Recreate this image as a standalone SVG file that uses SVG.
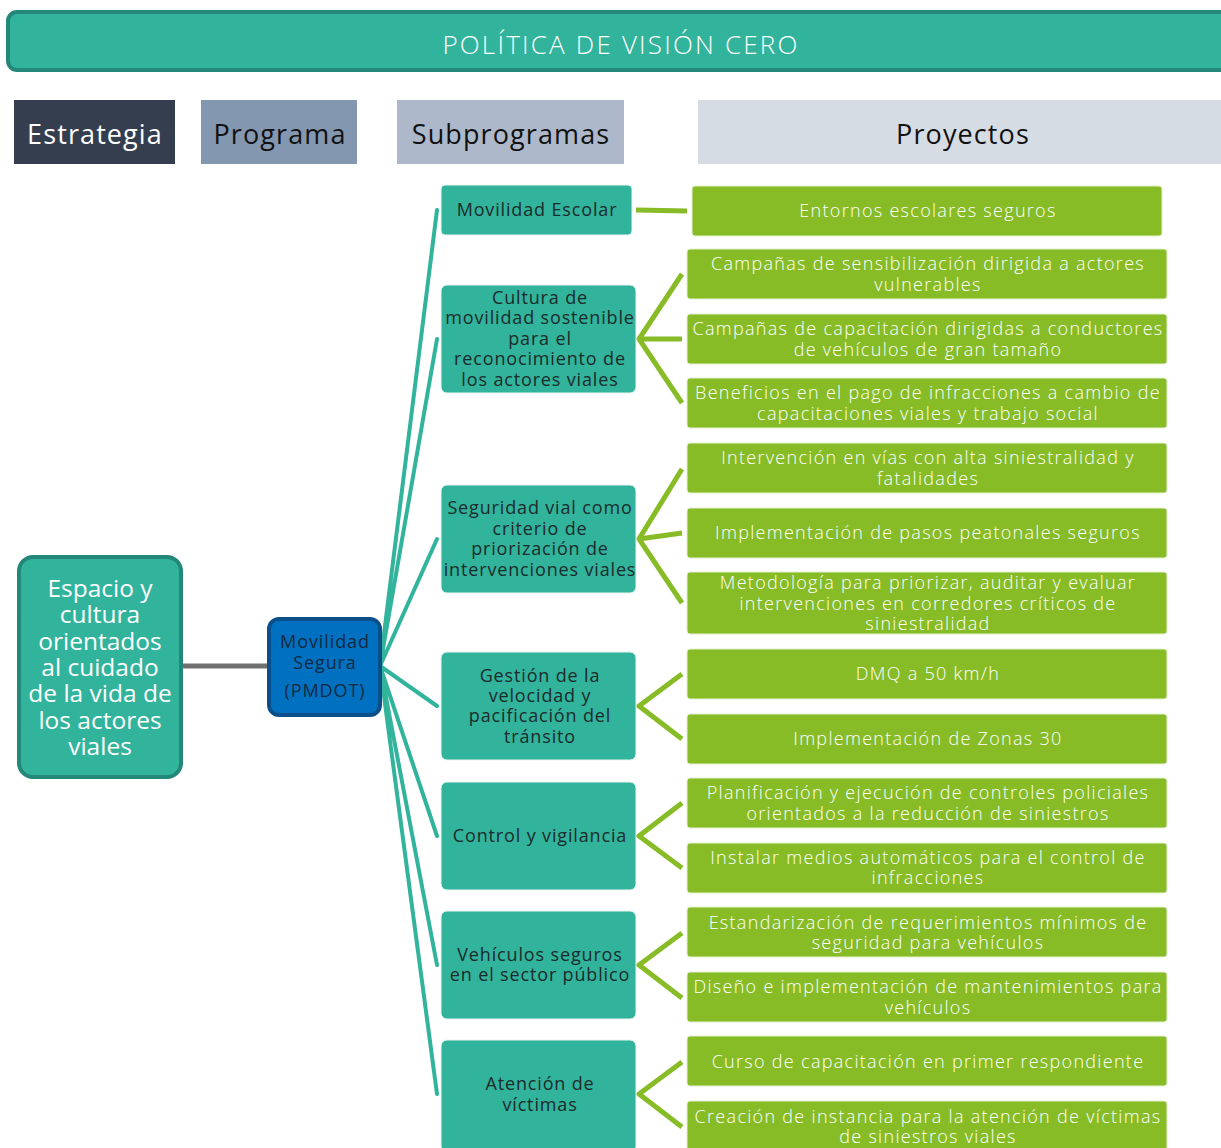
<svg xmlns="http://www.w3.org/2000/svg" width="1221" height="1148" viewBox="0 0 1221 1148">
<style>
  text { font-family: "Open Sans", "Noto Sans", "DejaVu Sans", sans-serif; text-anchor: middle; dominant-baseline: central; }
  .hdr { font-size: 27px; letter-spacing: 1.1px; }
  .sub rect { fill: #31b39c; stroke: #e8f5f1; stroke-width: 1; }
  .sub text { fill: #1c2b2b; font-size: 18px; letter-spacing: 0.85px; }
  .prj rect { fill: #87bc27; stroke: #e4f0cf; stroke-width: 1; }
  .prj text { fill: #ffffff; font-size: 18px; font-weight: 300; letter-spacing: 1.3px; }
  .tl { stroke: #31b39c; stroke-width: 4; fill: none; stroke-linecap: round; }
  .gl { stroke: #87bc27; stroke-width: 5; fill: none; stroke-linejoin: miter; }
</style>
<rect width="1221" height="1148" fill="#ffffff"/>

<g id="title">
  <rect x="8" y="12" width="1250" height="58" rx="9" fill="#31b39c" stroke="#23877a" stroke-width="4"/>
  <text x="621" y="44" fill="#ffffff" font-size="26" font-weight="300" letter-spacing="2.2">POLÍTICA DE VISIÓN CERO</text>
</g>

<g id="headers">
  <g id="h-estrategia"><rect x="14" y="100" width="161" height="64" fill="#343e4f"/><text class="hdr" x="95" y="133" fill="#ffffff">Estrategia</text></g>
  <g id="h-programa"><rect x="201" y="100" width="156" height="64" fill="#8497b0"/><text class="hdr" x="280" y="133" fill="#111111">Programa</text></g>
  <g id="h-subprogramas"><rect x="397" y="100" width="227" height="64" fill="#adb9ca"/><text class="hdr" x="511" y="133" fill="#111111">Subprogramas</text></g>
  <g id="h-proyectos"><rect x="698" y="100" width="530" height="64" fill="#d6dce4"/><text class="hdr" x="963" y="133" fill="#111111">Proyectos</text></g>
</g>

<g id="connectors">
  <line x1="181" y1="666" x2="268" y2="666" stroke="#707070" stroke-width="5"/>
  <path class="tl" d="M380 666 L437 210 M380 666 L437 339 M380 666 L437 539 M380 666 L437 706 M380 666 L437 836 M380 666 L437 965 M380 666 L437 1094"/>
  <path class="gl" d="M636 210 L687 211"/>
  <path class="gl" d="M682 274 L639 339 L682 403 M639 339 L682 339"/>
  <path class="gl" d="M682 469 L639 539 L682 603 M639 539 L682 533"/>
  <path class="gl" d="M682 674 L639 706 L682 739"/>
  <path class="gl" d="M682 803 L639 836 L682 868"/>
  <path class="gl" d="M682 933 L639 965 L682 998"/>
  <path class="gl" d="M682 1062 L639 1094 L682 1127"/>
</g>

<g id="estrategia">
  <rect x="19" y="557" width="162" height="220" rx="14" fill="#31b39c" stroke="#23877a" stroke-width="4"/>
  <g fill="#ffffff" font-size="24.5">
    <text x="100" y="587">Espacio y</text>
    <text x="100" y="613">cultura</text>
    <text x="100" y="640">orientados</text>
    <text x="100" y="666">al cuidado</text>
    <text x="100" y="692">de la vida de</text>
    <text x="100" y="719">los actores</text>
    <text x="100" y="745">viales</text>
  </g>
</g>

<g id="programa">
  <rect x="269" y="619" width="111" height="96" rx="10" fill="#0070c0" stroke="#0b4f8a" stroke-width="4"/>
  <g fill="#152a40" font-size="18" letter-spacing="0.9">
    <text x="325" y="641">Movilidad</text>
    <text x="325" y="662">Segura</text>
    <text x="325" y="690">(PMDOT)</text>
  </g>
</g>

<g id="sub-escolar" class="sub"><rect x="441" y="185" width="191" height="50" rx="4"/><text x="537" y="209">Movilidad Escolar</text></g>
<g id="sub-cultura" class="sub"><rect x="441" y="285" width="195" height="108" rx="6"/>
  <text x="540" y="297">Cultura de</text><text x="540" y="317">movilidad sostenible</text><text x="540" y="338">para el</text><text x="540" y="358">reconocimiento de</text><text x="540" y="379">los actores viales</text></g>
<g id="sub-seguridad" class="sub"><rect x="441" y="485" width="195" height="108" rx="6"/>
  <text x="540" y="507">Seguridad vial como</text><text x="540" y="528">criterio de</text><text x="540" y="548">priorización de</text><text x="540" y="569">intervenciones viales</text></g>
<g id="sub-velocidad" class="sub"><rect x="441" y="652" width="195" height="108" rx="6"/>
  <text x="540" y="675">Gestión de la</text><text x="540" y="695">velocidad y</text><text x="540" y="715">pacificación del</text><text x="540" y="736">tránsito</text></g>
<g id="sub-control" class="sub"><rect x="441" y="782" width="195" height="108" rx="6"/>
  <text x="540" y="835">Control y vigilancia</text></g>
<g id="sub-vehiculos" class="sub"><rect x="441" y="911" width="195" height="108" rx="6"/>
  <text x="540" y="954">Vehículos seguros</text><text x="540" y="974">en el sector público</text></g>
<g id="sub-victimas" class="sub"><rect x="441" y="1040" width="195" height="112" rx="6"/>
  <text x="540" y="1083">Atención de</text><text x="540" y="1104">víctimas</text></g>

<g id="p-entornos" class="prj"><rect x="692" y="186" width="470" height="50" rx="3"/><text x="928" y="210">Entornos escolares seguros</text></g>
<g id="p-sensibilizacion" class="prj"><rect x="687" y="249" width="480" height="50" rx="3"/><text x="928" y="263">Campañas de sensibilización dirigida a actores</text><text x="928" y="284">vulnerables</text></g>
<g id="p-capacitacion" class="prj"><rect x="687" y="314" width="480" height="50" rx="3"/><text x="928" y="328">Campañas de capacitación dirigidas a conductores</text><text x="928" y="349">de vehículos de gran tamaño</text></g>
<g id="p-beneficios" class="prj"><rect x="687" y="378" width="480" height="50" rx="3"/><text x="928" y="392">Beneficios en el pago de infracciones a cambio de</text><text x="928" y="413">capacitaciones viales y trabajo social</text></g>
<g id="p-intervencion" class="prj"><rect x="687" y="443" width="480" height="50" rx="3"/><text x="928" y="457">Intervención en vías con alta siniestralidad y</text><text x="928" y="478">fatalidades</text></g>
<g id="p-pasos" class="prj"><rect x="687" y="508" width="480" height="50" rx="3"/><text x="928" y="532">Implementación de pasos peatonales seguros</text></g>
<g id="p-metodologia" class="prj"><rect x="687" y="572" width="480" height="62" rx="3"/><text x="928" y="582">Metodología para priorizar, auditar y evaluar</text><text x="928" y="603">intervenciones en corredores críticos de</text><text x="928" y="623">siniestralidad</text></g>
<g id="p-dmq" class="prj"><rect x="687" y="649" width="480" height="50" rx="3"/><text x="928" y="673">DMQ a 50 km/h</text></g>
<g id="p-zonas" class="prj"><rect x="687" y="714" width="480" height="50" rx="3"/><text x="928" y="738">Implementación de Zonas 30</text></g>
<g id="p-planificacion" class="prj"><rect x="687" y="778" width="480" height="50" rx="3"/><text x="928" y="792">Planificación y ejecución de controles policiales</text><text x="928" y="813">orientados a la reducción de siniestros</text></g>
<g id="p-instalar" class="prj"><rect x="687" y="843" width="480" height="50" rx="3"/><text x="928" y="857">Instalar medios automáticos para el control de</text><text x="928" y="877">infracciones</text></g>
<g id="p-estandarizacion" class="prj"><rect x="687" y="907" width="480" height="50" rx="3"/><text x="928" y="922">Estandarización de requerimientos mínimos de</text><text x="928" y="942">seguridad para vehículos</text></g>
<g id="p-diseno" class="prj"><rect x="687" y="972" width="480" height="50" rx="3"/><text x="928" y="986">Diseño e implementación de mantenimientos para</text><text x="928" y="1007">vehículos</text></g>
<g id="p-curso" class="prj"><rect x="687" y="1036" width="480" height="50" rx="3"/><text x="928" y="1061">Curso de capacitación en primer respondiente</text></g>
<g id="p-creacion" class="prj"><rect x="687" y="1101" width="480" height="52" rx="3"/><text x="928" y="1116">Creación de instancia para la atención de víctimas</text><text x="928" y="1136">de siniestros viales</text></g>
</svg>
